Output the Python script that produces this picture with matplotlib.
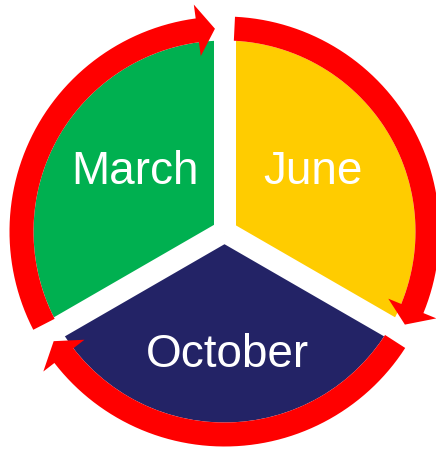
#------------- imports -------------#
import matplotlib
matplotlib.use("Agg")
import matplotlib.pyplot as plt
import numpy as np
from matplotlib.patches import Polygon


## chart data ##
months = ["March", "June", "October"]
shares = [1, 1, 1]
slice_colors = ["#00B050", "#FFCC00", "#232366"]
arrow_color = "#FF0000"


## layout (pixels, y up) ##
W, H = 436, 452
cx, cy = 224.5, 219.5
R = 191.
ring_in, ring_out = 191., 215.
head_half = 26.
gap_px = 22.


def arcArrow(ax, tail, tip, headlen=5.0):
    """ clockwise arc arrow along the ring, angles in degrees """
    base = tip + headlen
    angs = np.radians(np.linspace(tail, base, 60))
    rm = (ring_in + ring_out) / 2.

    pts = []
    for a in angs:
        pts.append((cx + ring_out*np.cos(a), cy + ring_out*np.sin(a)))
    b = np.radians(base)
    t = np.radians(tip)
    pts.append((cx + (rm + head_half)*np.cos(b), cy + (rm + head_half)*np.sin(b)))
    pts.append((cx + rm*np.cos(t), cy + rm*np.sin(t)))
    pts.append((cx + (rm - head_half)*np.cos(b), cy + (rm - head_half)*np.sin(b)))
    for a in angs[::-1]:
        pts.append((cx + ring_in*np.cos(a), cy + ring_in*np.sin(a)))

    ax.add_patch(Polygon(pts, closed=True, facecolor=arrow_color,
                         edgecolor="none", zorder=5))


fig = plt.figure(figsize=(W/100., H/100.), dpi=100)
ax = fig.add_axes([0, 0, 1, 1])

## pie, clockwise starting at the lower-left boundary ##
start = 210.
ax.pie(shares, colors=slice_colors, startangle=start, counterclock=False,
       center=(cx, cy), radius=R, wedgeprops=dict(linewidth=0))

## slice boundaries (clockwise) ##
bounds = start - 360. * np.cumsum([0] + shares[:-1]) / float(sum(shares))

## white gaps between slices ##
for b in bounds:
    a = np.radians(b)
    ax.plot([cx, cx + (R + 3)*np.cos(a)], [cy, cy + (R + 3)*np.sin(a)],
            color="white", lw=gap_px*0.72, solid_capstyle="butt", zorder=3)

## red cycle arrows ##
for k in range(len(months)):
    tail = bounds[k] - 2.8
    tip = bounds[(k + 1) % len(months)] + 2.7
    if tip > tail:
        tip -= 360.
    arcArrow(ax, tail, tip)

## labels ##
label_pos = [(-89.5, 48.5), (88.5, 48.5), (2.5, -135.0)]
for name, (dx, dy) in zip(months, label_pos):
    ax.text(cx + dx, cy + dy, name, color="white", fontsize=33,
            family=["Liberation Sans", "DejaVu Sans"],
            ha="center", va="baseline", zorder=6)

ax.set_xlim(0, W)
ax.set_ylim(0, H)
ax.set_aspect("equal")
ax.axis("off")

fig.savefig("out.png", dpi=100, facecolor="white")
